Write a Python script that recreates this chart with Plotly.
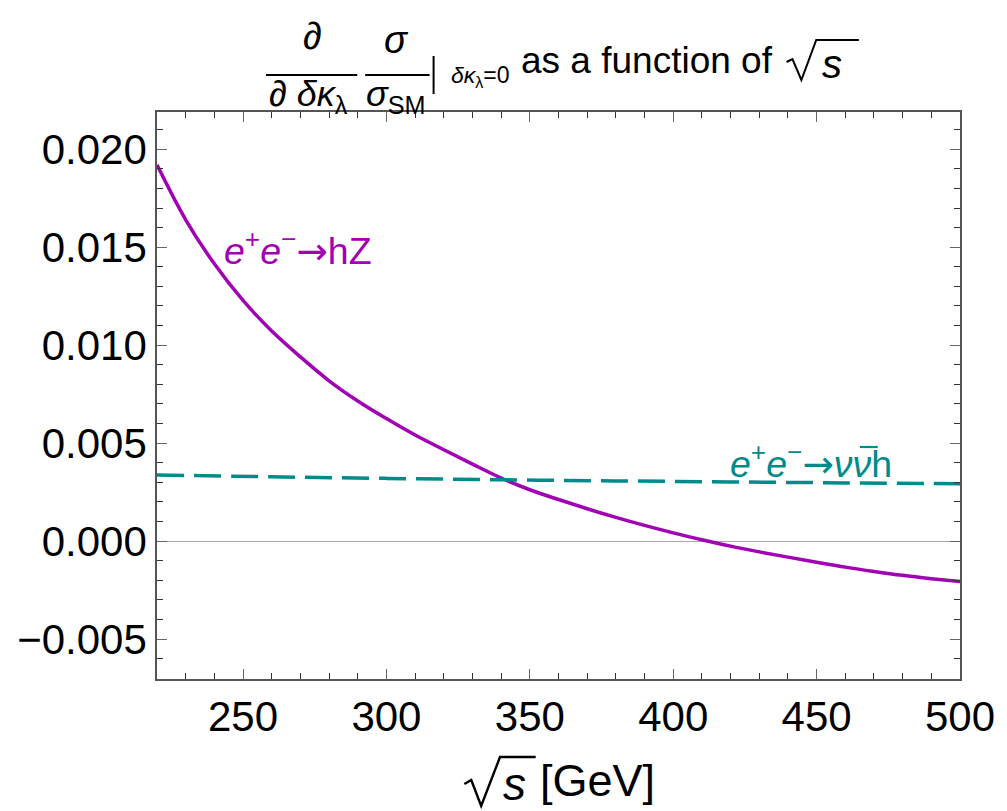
import plotly.graph_objects as go

# sqrt(s) grid in GeV and the normalised derivative for e+e- -> hZ
energy = [220, 230, 240, 250, 260, 270, 280, 290, 300, 310, 320, 330, 340, 350,
          360, 370, 380, 390, 400, 410, 420, 430, 440, 450, 460, 470, 480, 490, 500]
hz_vals = [0.01920, 0.01640, 0.01415, 0.01228, 0.01072, 0.00940, 0.00818, 0.00715,
           0.00625, 0.00541, 0.00466, 0.00393, 0.00322, 0.00262, 0.00212, 0.00165,
           0.00121, 0.00080, 0.00042, 0.00007, -0.00026, -0.00055, -0.00082,
           -0.00108, -0.00133, -0.00155, -0.00175, -0.00192, -0.00207]

# WW-fusion channel e+e- -> nu nubar h
nu_energy = [220, 260, 300, 340, 380, 420, 460, 500]
nu_vals = [0.00337, 0.00328, 0.00320, 0.00313, 0.00307, 0.00302, 0.00297, 0.00293]

x_ticks = [250, 300, 350, 400, 450, 500]
y_ticks = [-0.005, 0.000, 0.005, 0.010, 0.015, 0.020]

PURPLE = "#A100B4"
TEAL = "#008B8B"
FONT = "Liberation Sans, Arial, sans-serif"
ARROW = '<span style="font-family:DejaVu Sans">→</span>'

W, H = 1007, 811
L, R, T, B = 157, 40, 112, 132
PW, PH = W - L - R, H - T - B


def px(x):
    return (x - L) / PW


def py(y):
    return (H - B - y) / PH


fig = go.Figure()
fig.add_trace(go.Scatter(x=energy, y=hz_vals, mode="lines", line_shape="spline",
                         line=dict(color=PURPLE, width=3.5), showlegend=False))
fig.add_trace(go.Scatter(x=nu_energy, y=nu_vals, mode="lines", line_shape="spline",
                         line=dict(color=TEAL, width=3.5, dash="27px,10px"),
                         showlegend=False))

axis_common = dict(
    showgrid=False, showline=True, linecolor="#555555", linewidth=1.5,
    mirror="allticks", ticks="inside", ticklen=10, tickwidth=1.3, tickcolor="#666666",
    tickfont=dict(family=FONT, size=42, color="black"),
    minor=dict(ticks="inside", ticklen=6, tickwidth=1.2, tickcolor="#333333"),
    ticklabelstandoff=0,
)

fig.update_xaxes(range=[220, 500], tickvals=x_ticks, zeroline=False,
                 minor_dtick=10, minor_tick0=0, **axis_common)
fig.update_yaxes(range=[-0.00704, 0.0219], tickvals=y_ticks, tickformat=".3f",
                 zeroline=True, zerolinecolor="#A8A8A8", zerolinewidth=1.2,
                 minor_dtick=0.001, minor_tick0=0, **axis_common)

ann = []


def label(x, y, text, size=36, color="black", xanchor="center"):
    ann.append(dict(x=px(x), y=py(y), xref="paper", yref="paper", text=text,
                    showarrow=False, xanchor=xanchor, yanchor="middle",
                    font=dict(family=FONT, size=size, color=color)))


shapes = []


def line(x0, y0, x1, y1, color="black", width=2):
    shapes.append(dict(type="line", xref="paper", yref="paper",
                       x0=px(x0), x1=px(x1), y0=py(y0), y1=py(y1),
                       line=dict(color=color, width=width)))


def radical(pts, width=2):
    path = "M " + " L ".join(f"{px(x)},{py(y)}" for x, y in pts)
    shapes.append(dict(type="path", xref="paper", yref="paper", path=path,
                       line=dict(color="black", width=width)))


# title: d/d(dk) sigma/sigma_SM | dk=0 as a function of sqrt(s)
label(314, 36, "<i>∂</i>", size=38)
line(267, 75, 359, 75)
label(310, 96, "<i>∂ δκ</i><sub>λ</sub>", size=36)
label(399, 40, "<i>σ</i>", size=38)
line(367, 75, 432, 75)
label(398, 96, "<i>σ</i><sub>SM</sub>", size=36)
line(436, 56, 436, 94, width=2)
label(452, 77, "<i>δκ</i><sub>λ</sub>=0", size=23, xanchor="left")
label(522, 61, "as a function of", size=37, xanchor="left")
radical([(792, 62), (798, 59), (807, 80), (822, 40), (865, 40)], width=2)
label(826, 64, "<i>s</i>", size=40, xanchor="left")

# x-axis title
radical([(467, 784), (474, 780), (484, 806), (503, 757), (539, 757)], width=2.4)
label(504, 784, "<i>s</i>", size=46, xanchor="left")
label(541, 780, "[GeV]", size=45, xanchor="left")

# curve labels
label(223, 248, "<i>e</i><sup>+</sup><i>e</i><sup>−</sup>" + ARROW + "hZ",
      size=37.5, color=PURPLE, xanchor="left")
label(733, 461, "<i>e</i><sup>+</sup><i>e</i><sup>−</sup>" + ARROW + "<i>νν</i>h",
      size=37.5, color=TEAL, xanchor="left")
line(866, 447, 884, 447, color=TEAL, width=2.2)

fig.update_layout(
    width=W, height=H,
    margin=dict(l=L, r=R, t=T, b=B),
    paper_bgcolor="white", plot_bgcolor="white",
    annotations=ann, shapes=shapes,
)

fig.write_html("out.html")
